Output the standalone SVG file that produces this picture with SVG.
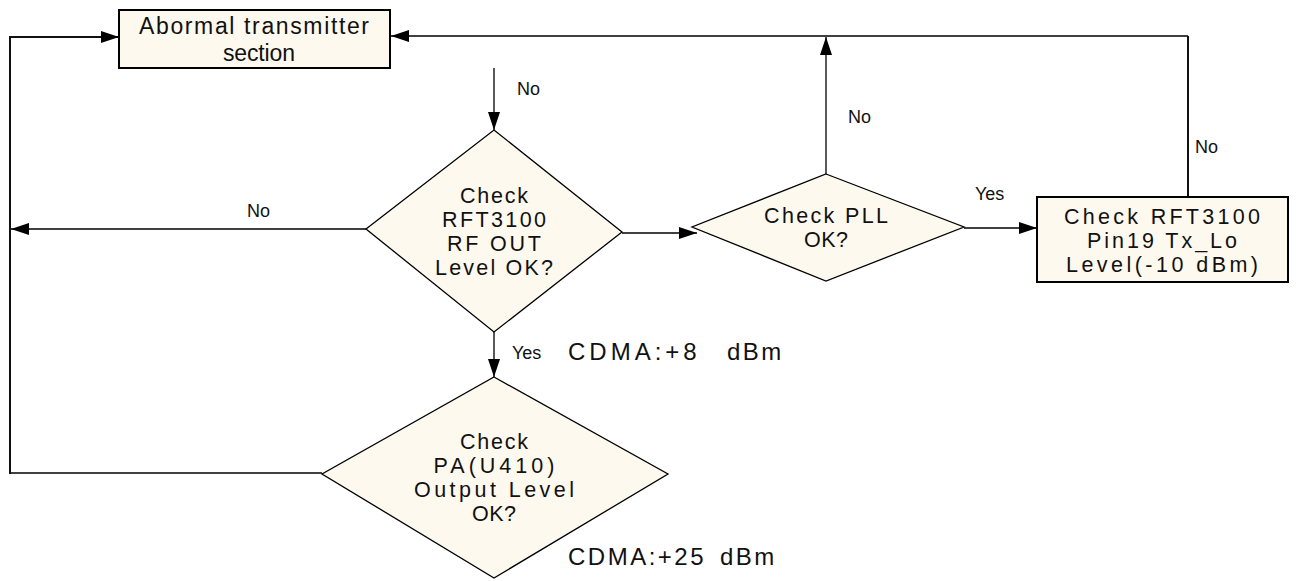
<svg xmlns="http://www.w3.org/2000/svg" width="1310" height="581" viewBox="0 0 1310 581">
<style>
.box{fill:#FEF9EE;stroke:#000;stroke-width:2}
.dia{fill:#FEF9EE;stroke:#000;stroke-width:1.3}
.t{font-family:"Liberation Sans",Arial,sans-serif;font-size:21.5px;fill:#111;text-anchor:middle}
.b{font-family:"Liberation Sans",Arial,sans-serif;font-size:23px;fill:#111;text-anchor:middle}
.l{font-family:"Liberation Sans",Arial,sans-serif;font-size:18px;fill:#111}
.c{font-family:"Liberation Sans",Arial,sans-serif;font-size:24px;letter-spacing:2.5px;fill:#111}
.ln{fill:none;stroke:#000;stroke-width:1.3}
.lt{fill:none;stroke:#111;stroke-width:2}
</style>
<defs>
<marker id="ah" markerUnits="userSpaceOnUse" viewBox="0 0 18 12" refX="18" refY="6" markerWidth="18" markerHeight="12" orient="auto">
<path d="M0,0 L18,6 L0,12 Z" fill="#000"/>
</marker>
</defs>
<rect width="1310" height="581" fill="#fff"/>
<g id="connectors">
<path class="ln" d="M494,68 V130" marker-end="url(#ah)"/>
<path class="ln" d="M494,332 V377" marker-end="url(#ah)"/>
<path class="ln" d="M366,229 H11" marker-end="url(#ah)"/>
<path class="ln" d="M622,233 H697" marker-end="url(#ah)"/>
<path class="ln" d="M964,228 H1037" marker-end="url(#ah)"/>
<path class="ln" d="M826,174 V37" marker-end="url(#ah)"/>
<path class="ln" d="M1188,36 H391" marker-end="url(#ah)"/>
<path class="lt" d="M1188,197 V36"/>
<path class="ln" d="M322,473 H10"/>
<path class="lt" d="M10,474 V37 H20"/>
<path class="lt" d="M10,37 H119" marker-end="url(#ah)"/>
<text class="l" x="517" y="95">No</text>
<text class="l" x="247" y="217">No</text>
<text class="l" x="848" y="123">No</text>
<text class="l" x="975" y="200">Yes</text>
<text class="l" x="1195" y="153">No</text>
<text class="l" x="512" y="359">Yes</text>
</g>
<g id="start">
<rect class="box" x="119" y="10" width="271" height="58"/>
<text class="b" x="254" y="34" textLength="230" lengthAdjust="spacing">Abormal transmitter</text>
<text class="b" x="259" y="61" textLength="72" lengthAdjust="spacing">section</text>
</g>
<g id="rfout">
<polygon class="dia" points="494,130 622,232 494,332 366,229"/>
<text class="t" x="494" y="203" textLength="68" lengthAdjust="spacing">Check</text>
<text class="t" x="494" y="227" textLength="104" lengthAdjust="spacing">RFT3100</text>
<text class="t" x="494" y="251" textLength="94" lengthAdjust="spacing">RF OUT</text>
<text class="t" x="494" y="275" textLength="118" lengthAdjust="spacing">Level OK?</text>
</g>
<g id="pll">
<polygon class="dia" points="826,174 964,227 826,281 692,227"/>
<text class="t" x="826" y="223" textLength="124" lengthAdjust="spacing">Check PLL</text>
<text class="t" x="826" y="247" textLength="44" lengthAdjust="spacing">OK?</text>
</g>
<g id="txlo">
<rect class="box" x="1037" y="197" width="251" height="85"/>
<text class="t" x="1162" y="224" textLength="196" lengthAdjust="spacing">Check RFT3100</text>
<text class="t" x="1162" y="248" textLength="150" lengthAdjust="spacing">Pin19 Tx_Lo</text>
<text class="t" x="1162" y="272" textLength="192" lengthAdjust="spacing">Level(-10 dBm)</text>
</g>
<g id="pa">
<polygon class="dia" points="494,377 668,474 494,578 322,474"/>
<text class="t" x="494" y="449" textLength="68" lengthAdjust="spacing">Check</text>
<text class="t" x="494" y="473" textLength="121" lengthAdjust="spacing">PA(U410)</text>
<text class="t" x="494" y="497" textLength="160" lengthAdjust="spacing">Output Level</text>
<text class="t" x="494" y="521" textLength="44" lengthAdjust="spacing">OK?</text>
</g>
<g id="notes">
<text class="c" y="360"><tspan x="568" style="letter-spacing:4px">CDMA:+8</tspan><tspan x="727">dBm</tspan></text>
<text class="c" y="565"><tspan x="568">CDMA:+25</tspan><tspan x="720">dBm</tspan></text>
</g>
</svg>
